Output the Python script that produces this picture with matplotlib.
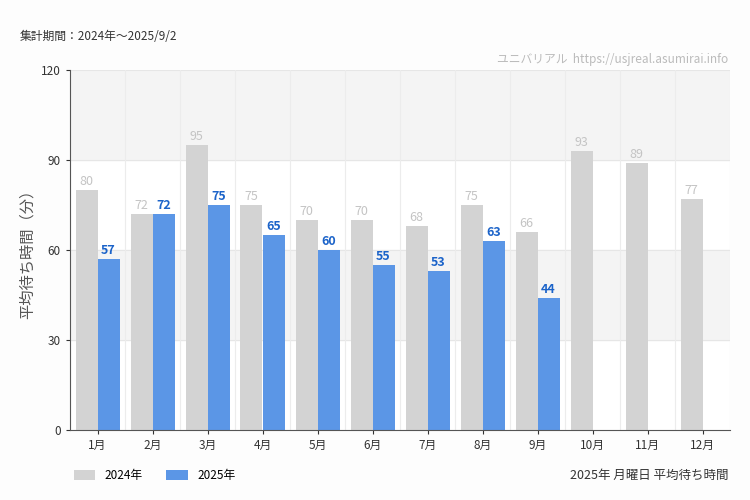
import matplotlib
matplotlib.use("Agg")
import matplotlib.pyplot as plt
import numpy as np

months = ["1月","2月","3月","4月","5月","6月","7月","8月","9月","10月","11月","12月"]
v2024 = [80,72,95,75,70,70,68,75,66,93,89,77]
v2025 = [57,72,75,65,60,55,53,63,44]
yticks = [0,30,60,90,120]

plt.rcParams["font.family"] = "Noto Sans CJK JP"
fig = plt.figure(figsize=(7.5,5), dpi=100, facecolor="#fdfdfd")
ax = fig.add_axes([70/750, 70/500, 660/750, 360/500])
ax.set_facecolor("white")
for lo in (30, 90):
    ax.axhspan(lo, lo+30, color="#f4f4f4", zorder=0)
for y in yticks[1:]:
    ax.axhline(y, color="#e6e6e6", lw=0.8, zorder=0.5)
for i in range(13):
    ax.axvline(i-0.5, color="#ececec", lw=0.8, zorder=0.5)

x = np.arange(len(months))
w = 0.4
ax.bar(x[:len(v2024)]-w/2, v2024, w, color="#d3d3d3", zorder=2, label="2024年")
ax.bar(x[:len(v2025)]+w/2, v2025, w, color="#5b96e6", zorder=2, label="2025年")
for i, v in enumerate(v2024):
    ax.text(i-w/2, v+0.8, str(v), ha="center", va="bottom", color="#c4c4c4", fontsize=9, fontstretch="condensed")
for i, v in enumerate(v2025):
    ax.text(i+w/2, v+0.8, str(v), ha="center", va="bottom", color="#1b63c9", fontsize=9, fontweight="bold")

ax.set_xlim(-0.5, 11.5)
ax.set_ylim(0, 120)
ax.set_yticks(yticks)
ax.set_xticks(x)
ax.set_xticklabels(months)
ax.tick_params(labelsize=8.5, colors="#333333", length=3)
for s in ["top","right"]:
    ax.spines[s].set_visible(False)
ax.spines["left"].set_color("#555555")
ax.spines["bottom"].set_color("#555555")
ax.set_ylabel("平均待ち時間（分）", fontsize=11, color="#555555")

fig.text(20/750, 1-37/500, "集計期間：2024年～2025/9/2", fontsize=8.5, va="center", color="#333333")
fig.text(728/750, 1-60/500, "ユニバリアル  https://usjreal.asumirai.info", fontsize=8.5, ha="right", va="center", color="#bbbbbb")
fig.text(728/750, 1-475/500, "2025年 月曜日 平均待ち時間", fontsize=9, ha="right", va="center", color="#333333")
ax.legend(loc="upper left", bbox_to_anchor=(-0.01, -0.08), ncol=2, frameon=False, fontsize=8.5,
          handlelength=1.8, handleheight=0.9, columnspacing=2)
fig.savefig("out.png", dpi=100, facecolor=fig.get_facecolor())
